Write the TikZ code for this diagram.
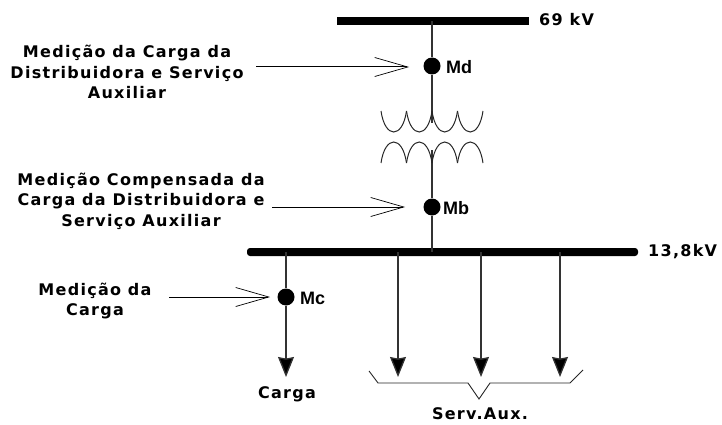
\documentclass[tikz,border=0pt]{standalone}
\usepackage{fontspec}
\setmainfont{DejaVu Sans}[LetterSpace=8]
\newfontfamily\tagfont{Liberation Sans}
\usetikzlibrary{arrows.meta}
\tikzset{
  barra/.style={fill=black,inner sep=0pt,minimum height=8pt},
  medidor/.style={circle,fill=black,inner sep=0pt,minimum size=17pt},
  ramo/.style={draw=black!80,line width=1.3pt},
  rotulo/.style={font=\fontsize{16}{20.5}\selectfont\bfseries,align=center,inner sep=0pt},
  sigla/.style={font=\fontsize{18}{18}\selectfont\bfseries\tagfont,inner sep=0pt},
  indica/.style={line width=1pt,-{Straight Barb[length=33pt,width=19pt,line width=.7pt]}},
  carga/.style={ramo,-{Stealth[length=20pt,width=16pt,inset=1.5pt,fill=black]}}
}
\begin{document}
\begin{tikzpicture}[x=1pt,y=-1pt]
  \useasboundingbox (0,0) rectangle (722,425);
  \node[barra,minimum width=192pt] (bus69) at (433,21.5) {};
  \node[barra,minimum width=391pt,rounded corners=3pt] (bus13) at (442.5,252) {};
  \node[medidor] (Md) at (432,66) {};
  \node[medidor] (Mb) at (432,207) {};
  \node[medidor] (Mc) at (286,297) {};
  \node[sigla,anchor=west] (tagd) at (446,67) {Md};
  \node[sigla,anchor=west] (tagb) at (443,208) {Mb};
  \node[sigla,anchor=west] (tagc) at (300,298) {Mc};
  \node[rotulo,anchor=west] (v69) at (539,20) {69 kV};
  \node[rotulo,anchor=west] (v13) at (648,252) {13,8kV};
  \node[rotulo] (medd) at (127,72) {Medição da Carga da\\Distribuidora e Serviço\\Auxiliar};
  \node[rotulo] (medb) at (141,201) {Medição Compensada da\\Carga da Distribuidora e\\Serviço Auxiliar};
  \node[rotulo] (medc) at (95,301) {Medição da\\Carga};
  \node[rotulo] (carganome) at (287,394) {Carga};
  \node[rotulo] (servnome) at (480,414) {Serv.Aux.};
  \coordinate (d0) at (256,67);
  \coordinate (d1) at (409,67);
  \coordinate (b0) at (272,207);
  \coordinate (b1) at (405,207);
  \coordinate (c0) at (169,297);
  \coordinate (c1) at (270,297);
  \coordinate (y0) at (432,21);
  \coordinate (y1) at (432,252);
  \coordinate (u0) at (432,123);
  \coordinate (u1) at (432,150);
  \coordinate (t0) at (286,252);
  \coordinate (t1) at (398,252);
  \coordinate (t2) at (481,252);
  \coordinate (t3) at (560,252);
  \coordinate (s0) at (286,377);
  \coordinate (s1) at (398,377);
  \coordinate (s2) at (481,377);
  \coordinate (s3) at (560,377);
  \draw[ramo] (y0) to (Md);
  \draw[ramo] (Md) to (u0);
  \draw[ramo] (u1) to (Mb);
  \draw[ramo] (Mb) to (y1);
  \begin{scope}[line width=1pt,draw=black!85]
    \foreach \xa in {381,406.5,432,457.5} {
      \draw (\xa,111) .. controls (\xa+4,139) and (\xa+21.5,139) .. (\xa+25.5,111);
      \draw (\xa,163) .. controls (\xa+4,135) and (\xa+21.5,135) .. (\xa+25.5,163);
    }
  \end{scope}
  \draw[indica] (d0) to (d1);
  \draw[indica] (b0) to (b1);
  \draw[indica] (c0) to (c1);
  \draw[ramo] (t0) to (Mc);
  \draw[carga] (Mc) to (s0);
  \draw[carga] (t1) to (s1);
  \draw[carga] (t2) to (s2);
  \draw[carga] (t3) to (s3);
  \draw[line width=.9pt,draw=black!85] (369,371) -- (378,383) -- (468,383) -- (479,399) -- (490,383) -- (570,383) -- (583,370);
\end{tikzpicture}
\end{document}
